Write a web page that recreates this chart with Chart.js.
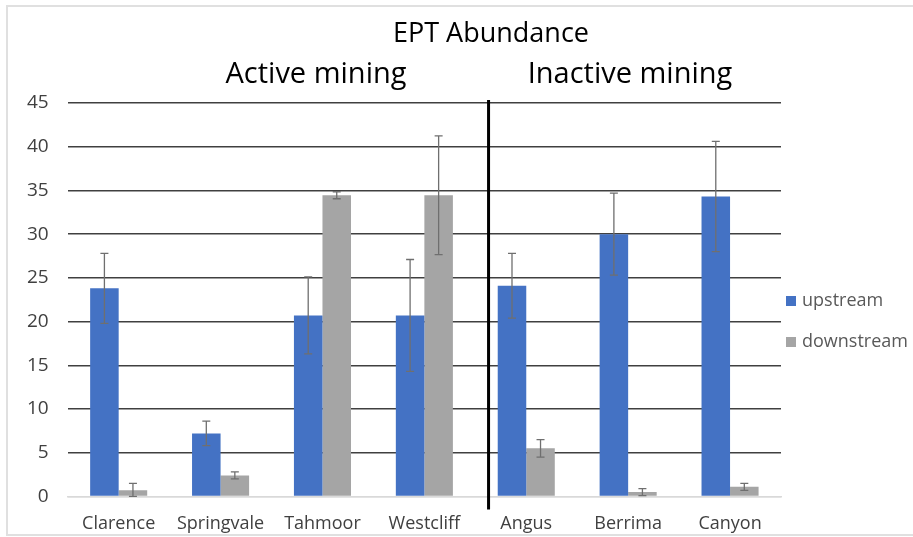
<!DOCTYPE html>
<html>
<head>
<meta charset="utf-8">
<script src="https://cdn.jsdelivr.net/npm/chart.js@4/dist/chart.umd.min.js"></script>
<style>
  html, body { margin: 0; padding: 0; background: #fff; }
  #wrap { width: 913px; height: 537px; position: relative; }
</style>
</head>
<body>
<div id="wrap"><canvas id="chart" width="913" height="537"></canvas></div>
<script>
const sites = ["Clarence", "Springvale", "Tahmoor", "Westcliff", "Angus", "Berrima", "Canyon"];
const upstream = [23.8, 7.2, 20.7, 20.7, 24.1, 30.0, 34.3];
const upstreamErr = [4.0, 1.4, 4.4, 6.4, 3.7, 4.7, 6.3];
const downstream = [0.7, 2.4, 34.45, 34.45, 5.5, 0.5, 1.1];
const downstreamErr = [0.8, 0.4, 0.4, 6.8, 1.0, 0.4, 0.4];
const yTicks = [0, 5, 10, 15, 20, 25, 30, 35, 40, 45];

const FONT = "'Open Sans', 'Noto Sans', sans-serif";
const BLUE = "#4472C4";
const GRAY = "#A5A5A5";

// error bars, drawn on top of each bar from the bar's own x and the y scale
const errorBars = {
  id: "errorBars",
  afterDatasetsDraw(chart) {
    const ctx = chart.ctx;
    const y = chart.scales.y;
    ctx.save();
    ctx.strokeStyle = "#6f6f6f";
    ctx.lineWidth = 1.3;
    chart.data.datasets.forEach((ds, i) => {
      const meta = chart.getDatasetMeta(i);
      meta.data.forEach((bar, j) => {
        const v = ds.data[j], e = ds.errors[j];
        const top = y.getPixelForValue(v + e);
        const bot = y.getPixelForValue(Math.max(0, v - e));
        ctx.beginPath();
        ctx.moveTo(bar.x, top); ctx.lineTo(bar.x, bot);
        ctx.moveTo(bar.x - 4, top); ctx.lineTo(bar.x + 4, top);
        ctx.moveTo(bar.x - 4, bot); ctx.lineTo(bar.x + 4, bot);
        ctx.stroke();
      });
    });
    ctx.restore();
  },
};

// titles, divider, legend and frame
const decorations = {
  id: "decorations",
  beforeDraw(chart) {
    const ctx = chart.ctx;
    ctx.save();
    ctx.fillStyle = "#fff";
    ctx.fillRect(0, 0, chart.width, chart.height);
    ctx.strokeStyle = "#e0e0e0";
    ctx.lineWidth = 2;
    ctx.strokeRect(7, 6, chart.width + 10, 529);
    ctx.restore();
  },
  afterDraw(chart) {
    const ctx = chart.ctx;
    const area = chart.chartArea;
    const x = chart.scales.x;
    ctx.save();
    ctx.fillStyle = "#000";
    ctx.textAlign = "center";
    ctx.textBaseline = "middle";
    ctx.font = "27px " + FONT;
    ctx.fillText("EPT Abundance", 491, 34);
    ctx.font = "29px " + FONT;
    ctx.fillText("Active mining", 316, 75);
    ctx.fillText("Inactive mining", 630, 75);

    // divider between active and inactive sites
    const dx = x.getPixelForValue(3.63);
    ctx.strokeStyle = "#000";
    ctx.lineWidth = 3;
    ctx.beginPath();
    ctx.moveTo(dx, area.top - 3);
    ctx.lineTo(dx, area.bottom + 13);
    ctx.stroke();

    // legend
    ctx.font = "18px " + FONT;
    ctx.textAlign = "left";
    chart.data.datasets.forEach((ds, i) => {
      const cy = 301 + i * 41;
      ctx.fillStyle = ds.backgroundColor;
      ctx.fillRect(786, cy - 5, 10, 10);
      ctx.fillStyle = "#595959";
      ctx.fillText(ds.label, 802, cy);
    });
    ctx.restore();
  },
};

new Chart(document.getElementById("chart"), {
  type: "bar",
  data: {
    labels: sites,
    datasets: [
      { label: "upstream", data: upstream, errors: upstreamErr, backgroundColor: BLUE },
      { label: "downstream", data: downstream, errors: downstreamErr, backgroundColor: GRAY },
    ],
  },
  options: {
    responsive: false,
    animation: false,
    layout: { padding: { top: 103, left: 8, right: 132, bottom: -15 } },
    categoryPercentage: 0.56,
    barPercentage: 1.0,
    plugins: {
      legend: { display: false },
      title: { display: false },
      tooltip: { enabled: false },
    },
    scales: {
      x: {
        grid: { display: false, drawTicks: false },
        border: { color: "#d9d9d9", width: 1.5 },
        ticks: { color: "#404040", font: { family: FONT, size: 18 }, padding: 17, maxRotation: 0 },
      },
      y: {
        min: 0,
        max: 45,
        afterBuildTicks(axis) { axis.ticks = yTicks.map(v => ({ value: v })); },
        grid: {
          drawTicks: false,
          color: c => (c.tick && c.tick.value === 0 ? "#d9d9d9" : "#404040"),
          lineWidth: 1.5,
        },
        border: { display: false },
        ticks: { color: "#404040", font: { family: FONT, size: 19 }, padding: 19 },
      },
    },
  },
  plugins: [decorations, errorBars],
});
</script>
</body>
</html>
